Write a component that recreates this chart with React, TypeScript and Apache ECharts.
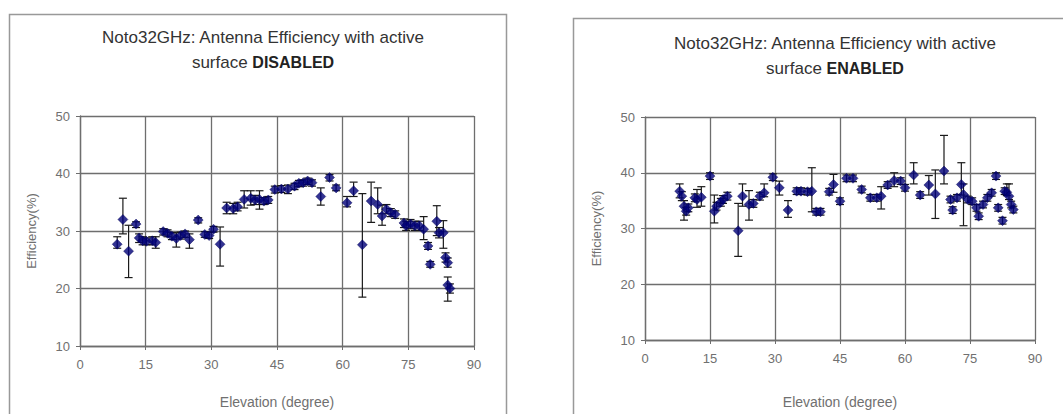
import React, { useEffect, useRef } from "react";
import * as echarts from "echarts";

// [elevation, efficiency, errLow, errHigh]
const disabledPoints: number[][] = [
  [8.5, 27.7, 27.0, 29.0],
  [9.8, 32.0, 29.5, 35.7],
  [11.1, 26.5, 21.9, 31.0],
  [12.8, 31.2, 30.6, 31.6],
  [13.5, 28.8, 28.0, 29.5],
  [14.3, 28.3, 27.6, 29.0],
  [15.2, 28.2, 27.6, 28.8],
  [16.5, 28.3, 27.6, 29.0],
  [17.3, 28.0, 27.0, 29.0],
  [19.0, 29.9, 29.3, 30.4],
  [20.0, 29.6, 29.0, 30.2],
  [21.0, 29.1, 28.5, 29.7],
  [22.0, 28.7, 27.2, 29.7],
  [23.0, 29.2, 28.6, 29.8],
  [24.0, 29.5, 28.9, 30.0],
  [25.0, 28.5, 27.0, 29.5],
  [27.0, 31.9, 31.4, 32.3],
  [28.5, 29.4, 28.9, 29.9],
  [29.5, 29.2, 28.7, 29.8],
  [30.5, 30.3, 29.8, 30.8],
  [32.0, 27.7, 23.9, 30.7],
  [33.5, 34.0, 33.0, 35.0],
  [35.0, 33.9, 33.0, 34.8],
  [36.0, 34.2, 33.5, 35.0],
  [37.5, 35.5, 34.0, 37.0],
  [39.0, 35.7, 34.5, 37.0],
  [40.0, 35.4, 34.6, 36.2],
  [41.0, 35.5, 33.8, 37.0],
  [42.0, 35.2, 34.6, 35.8],
  [43.0, 35.4, 34.8, 36.0],
  [44.5, 37.2, 36.6, 37.8],
  [46.0, 37.3, 36.7, 37.9],
  [47.5, 37.3, 36.5, 38.0],
  [49.0, 37.8, 37.2, 38.3],
  [50.0, 38.3, 37.7, 38.8],
  [51.0, 38.4, 37.8, 38.9],
  [52.0, 38.7, 38.1, 39.2],
  [53.0, 38.4, 37.8, 38.9],
  [55.0, 36.0, 34.5, 37.5],
  [57.0, 39.3, 38.7, 39.8],
  [58.5, 37.5, 37.0, 38.0],
  [61.0, 34.9, 34.2, 36.0],
  [62.5, 37.0, 36.0, 38.5],
  [64.5, 27.6, 18.5, 36.5],
  [66.5, 35.2, 31.5, 38.5],
  [68.0, 34.6, 33.0, 37.5],
  [69.0, 32.6, 31.0, 34.5],
  [70.0, 33.8, 33.0, 34.6],
  [71.0, 33.2, 32.5, 33.9],
  [72.0, 32.9, 32.2, 33.5],
  [74.0, 31.4, 30.6, 32.1],
  [74.5, 30.9, 30.1, 31.7],
  [75.5, 31.2, 30.4, 32.0],
  [76.5, 30.9, 30.1, 31.7],
  [77.5, 30.9, 30.1, 31.7],
  [78.5, 30.3, 28.5, 32.5],
  [79.5, 27.4, 26.8, 28.0],
  [80.0, 24.2, 23.7, 24.7],
  [81.5, 31.7, 29.2, 34.4],
  [82.0, 29.7, 28.8, 30.6],
  [83.0, 29.7, 27.0, 31.8],
  [83.5, 25.4, 24.6, 26.2],
  [84.0, 24.5, 23.7, 25.3],
  [84.0, 20.6, 17.8, 22.0],
  [84.5, 20.0, 19.2, 20.8],
];

const enabledPoints: number[][] = [
  [8.0, 36.7, 35.5, 38.0],
  [8.5, 35.8, 35.0, 36.6],
  [9.0, 34.0, 31.5, 35.0],
  [9.5, 33.1, 32.4, 33.8],
  [10.0, 33.7, 33.0, 34.4],
  [11.5, 35.5, 34.8, 36.2],
  [12.0, 35.2, 33.8, 37.0],
  [13.0, 35.6, 34.0, 37.5],
  [15.0, 39.4, 38.8, 40.0],
  [16.0, 33.1, 31.0, 36.0],
  [16.5, 34.0, 33.3, 34.7],
  [17.5, 34.7, 34.0, 35.4],
  [18.0, 35.2, 34.5, 35.9],
  [19.0, 35.8, 35.1, 36.5],
  [21.5, 29.6, 25.0, 34.5],
  [22.5, 35.8, 34.0, 38.0],
  [24.0, 34.3, 31.5, 36.8],
  [25.0, 34.5, 33.8, 35.2],
  [26.5, 35.8, 35.1, 36.5],
  [27.5, 36.4, 35.7, 38.0],
  [29.5, 39.2, 38.6, 39.8],
  [31.0, 37.3, 36.0, 38.5],
  [33.0, 33.3, 32.0, 35.0],
  [35.0, 36.7, 36.1, 37.3],
  [36.0, 36.7, 36.1, 37.3],
  [37.5, 36.6, 36.0, 37.2],
  [38.5, 36.7, 33.0, 40.9],
  [39.5, 33.0, 32.4, 33.6],
  [40.5, 33.0, 32.4, 33.6],
  [42.5, 36.6, 36.0, 37.2],
  [43.5, 37.9, 36.5, 39.7],
  [45.0, 34.9, 34.3, 35.5],
  [46.5, 39.0, 38.4, 39.6],
  [48.0, 39.0, 38.4, 39.6],
  [50.0, 37.0, 36.4, 37.6],
  [52.0, 35.5, 34.9, 36.1],
  [53.5, 35.5, 34.9, 36.1],
  [54.5, 35.8, 33.5, 37.5],
  [56.0, 37.8, 37.2, 38.4],
  [57.5, 38.6, 37.5, 40.0],
  [59.0, 38.5, 37.9, 39.1],
  [60.0, 37.3, 36.7, 37.9],
  [62.0, 39.6, 38.0, 41.8],
  [63.5, 36.0, 35.4, 36.6],
  [65.5, 37.8, 36.0, 39.5],
  [67.0, 36.2, 31.8, 40.5],
  [69.0, 40.3, 38.0, 46.7],
  [70.5, 35.2, 34.6, 35.8],
  [71.0, 33.3, 32.7, 33.9],
  [72.0, 35.5, 34.9, 36.1],
  [73.0, 37.9, 36.0, 41.8],
  [73.5, 36.1, 30.5, 38.0],
  [74.5, 35.2, 34.6, 35.8],
  [75.5, 34.9, 34.3, 35.5],
  [76.5, 33.7, 33.1, 34.3],
  [77.0, 32.2, 31.6, 32.8],
  [78.0, 34.3, 33.7, 34.9],
  [79.0, 35.5, 34.9, 36.1],
  [80.0, 36.4, 35.8, 37.0],
  [81.0, 39.4, 38.8, 40.0],
  [81.5, 33.7, 33.1, 34.3],
  [82.5, 31.4, 30.8, 32.0],
  [83.0, 36.7, 36.1, 37.3],
  [83.5, 36.5, 35.9, 38.0],
  [84.0, 35.8, 35.2, 38.0],
  [84.5, 34.3, 33.7, 34.9],
  [85.0, 33.4, 32.8, 34.0],
];

const xTicks = { min: 0, max: 90, interval: 15 };
const yTicks = { min: 10, max: 50, interval: 10 };
const titleLine1 = "Noto32GHz: Antenna Efficiency with active";
const titleStates = ["DISABLED", "ENABLED"];
const xName = "Elevation (degree)";
const yName = "Efficiency(%)";

const FONT = "'Liberation Sans', Arial, sans-serif";
const GRID = "#6e6e6e";
const LABEL = "#707070";

export default function App() {
  const ref = useRef<HTMLDivElement>(null);
  useEffect(() => {
    if (!ref.current) return;
    const chart = echarts.init(ref.current, undefined, { renderer: "svg" });

    const errRender = (params: any, api: any) => {
      const x = api.value(0);
      const lo = api.coord([x, api.value(1)]);
      const hi = api.coord([x, api.value(2)]);
      const c = 4;
      const st = { stroke: "#1a1a1a", lineWidth: 1.2 };
      return {
        type: "group",
        children: [
          { type: "line", shape: { x1: lo[0], y1: lo[1], x2: hi[0], y2: hi[1] }, style: st },
          { type: "line", shape: { x1: lo[0] - c, y1: lo[1], x2: lo[0] + c, y2: lo[1] }, style: st },
          { type: "line", shape: { x1: hi[0] - c, y1: hi[1], x2: hi[0] + c, y2: hi[1] }, style: st },
        ],
      };
    };

    const grids = [
      { left: 80, top: 116, width: 394, height: 231 },
      { left: 645, top: 117, width: 390, height: 224 },
    ];

    const xAxis = grids.map((_, i) => ({
      type: "value",
      gridIndex: i,
      ...xTicks,
      name: xName,
      nameLocation: "middle",
      nameGap: i === 0 ? 49 : 55,
      nameTextStyle: { color: LABEL, fontSize: 14, fontFamily: FONT },
      axisLine: { show: true, lineStyle: { color: GRID, width: 1.3 } },
      axisTick: { show: true, length: 4, lineStyle: { color: GRID } },
      axisLabel: { color: LABEL, fontSize: 13, fontFamily: FONT, margin: 12 },
      splitLine: { show: true, lineStyle: { color: GRID, width: 1.3 } },
    }));

    const yAxis = grids.map((_, i) => ({
      type: "value",
      gridIndex: i,
      ...yTicks,
      name: yName,
      nameLocation: "middle",
      nameGap: 42,
      nameRotate: 90,
      nameTextStyle: { color: LABEL, fontSize: 13, fontFamily: FONT },
      axisLine: { show: true, lineStyle: { color: GRID, width: 1.3 } },
      axisTick: { show: true, length: 4, lineStyle: { color: GRID } },
      axisLabel: { color: LABEL, fontSize: 13, fontFamily: FONT, margin: 10 },
      splitLine: { show: true, lineStyle: { color: GRID, width: 1.3 } },
    }));

    const datasets = [disabledPoints, enabledPoints];
    const series: any[] = [];
    datasets.forEach((pts, i) => {
      series.push({
        type: "custom",
        xAxisIndex: i,
        yAxisIndex: i,
        renderItem: errRender,
        data: pts.map((p) => [p[0], p[2], p[3]]),
        encode: { x: 0, y: [1, 2] },
        z: 2,
      });
      series.push({
        type: "scatter",
        xAxisIndex: i,
        yAxisIndex: i,
        symbol: "diamond",
        symbolSize: 10,
        itemStyle: { color: "#000078", borderColor: "#000050", borderWidth: 0.5 },
        data: pts.map((p) => [p[0], p[1]]),
        z: 3,
      });
    });

    chart.setOption({
      animation: false,
      backgroundColor: "#ffffff",
      title: [
        { left: 258, top: 20, textAlign: "center" },
        { left: 830, top: 26, textAlign: "center" },
      ].map((t, i) => ({
        ...t,
        text: `${titleLine1}\nsurface {b|${titleStates[i]}}`,
        textStyle: {
          color: "#333333",
          fontSize: 17,
          fontWeight: "normal",
          fontFamily: FONT,
          lineHeight: 25,
          rich: { b: { fontWeight: "bold", fontSize: 16, fontFamily: FONT, color: "#222222", lineHeight: 25 } },
        },
      })),
      graphic: [
        { type: "rect", shape: { x: 9.5, y: 14.5, width: 497, height: 420 }, style: { fill: "none", stroke: "#999999", lineWidth: 1.5 }, z: -1 },
        { type: "rect", shape: { x: 573.5, y: 18.5, width: 500, height: 420 }, style: { fill: "none", stroke: "#999999", lineWidth: 1.5 }, z: -1 },
      ],
      grid: grids,
      xAxis,
      yAxis,
      series,
    });
    return () => chart.dispose();
  }, []);
  return <div ref={ref} style={{ position: "fixed", left: 0, top: 0, width: 1063, height: 414 }} />;
}
